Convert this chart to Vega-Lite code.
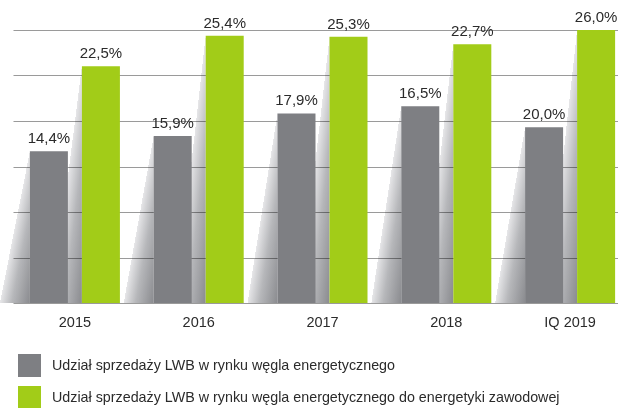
{
  "$schema": "https://vega.github.io/schema/vega-lite/v6.json",
  "width": 608,
  "height": 273,
  "autosize": {"type": "none"},
  "padding": {"left": 10, "top": 30, "right": 0, "bottom": 105},
  "background": "white",
  "config": {
    "view": {"stroke": null},
    "font": "Liberation Sans"
  },
  "data": {
    "values": [
      {"year": "2015", "series": "Udział sprzedaży LWB w rynku węgla energetycznego", "value": 14.45, "label": "14,4%"},
      {"year": "2015", "series": "Udział sprzedaży LWB w rynku węgla energetycznego do energetyki zawodowej", "value": 22.55, "label": "22,5%"},
      {"year": "2016", "series": "Udział sprzedaży LWB w rynku węgla energetycznego", "value": 15.9, "label": "15,9%"},
      {"year": "2016", "series": "Udział sprzedaży LWB w rynku węgla energetycznego do energetyki zawodowej", "value": 25.45, "label": "25,4%"},
      {"year": "2017", "series": "Udział sprzedaży LWB w rynku węgla energetycznego", "value": 18.05, "label": "17,9%"},
      {"year": "2017", "series": "Udział sprzedaży LWB w rynku węgla energetycznego do energetyki zawodowej", "value": 25.35, "label": "25,3%"},
      {"year": "2018", "series": "Udział sprzedaży LWB w rynku węgla energetycznego", "value": 18.75, "label": "16,5%"},
      {"year": "2018", "series": "Udział sprzedaży LWB w rynku węgla energetycznego do energetyki zawodowej", "value": 24.65, "label": "22,7%"},
      {"year": "IQ 2019", "series": "Udział sprzedaży LWB w rynku węgla energetycznego", "value": 16.75, "label": "20,0%"},
      {"year": "IQ 2019", "series": "Udział sprzedaży LWB w rynku węgla energetycznego do energetyki zawodowej", "value": 26.0, "label": "26,0%"}
    ]
  },
  "encoding": {
    "x": {
      "field": "year", "type": "nominal", "sort": null,
      "scale": {"range": [3, 622], "paddingInner": 0, "paddingOuter": 0},
      "axis": {"title": null, "domain": false, "ticks": false, "grid": false, "labelAngle": 0, "labelPadding": 19, "labelFontSize": 14.5, "labelColor": "#2b2b2b", "labelBaseline": "middle"}
    },
    "y": {
      "field": "value", "type": "quantitative",
      "scale": {"domain": [0, 26], "nice": false},
      "axis": {"title": null, "labels": false, "ticks": false, "domain": false, "grid": true, "gridColor": "#9a9a9a", "gridWidth": 1.2,
               "values": [0, 4.333333, 8.666667, 13, 17.333333, 21.666667, 26]}
    }
  },
  "layer": [
    {
      "transform": [{"filter": {"field": "series", "equal": "Udział sprzedaży LWB w rynku węgla energetycznego"}}],
      "mark": {"type": "bar", "width": 30, "xOffset": -60, "blend": "multiply",
        "fill": {"gradient": "linear", "x1": 0, "y1": 0, "x2": 1, "y2": 1,
          "stops": [{"offset": 0, "color": "#ffffff"}, {"offset": 0.5, "color": "#ffffff"}, {"offset": 0.5, "color": "#e6e6e8"}, {"offset": 0.7, "color": "#b6b7ba"}, {"offset": 1, "color": "#8a8b8f"}]}}
    },
    {
      "transform": [{"filter": {"field": "series", "equal": "Udział sprzedaży LWB w rynku węgla energetycznego do energetyki zawodowej"}}],
      "mark": {"type": "bar", "width": 30, "xOffset": -8, "blend": "multiply",
        "fill": {"gradient": "linear", "x1": 0, "y1": 0, "x2": 1, "y2": 1,
          "stops": [{"offset": 0, "color": "#ffffff"}, {"offset": 0.5, "color": "#ffffff"}, {"offset": 0.5, "color": "#e6e6e8"}, {"offset": 0.7, "color": "#b6b7ba"}, {"offset": 1, "color": "#8a8b8f"}]}}
    },
    {
      "mark": {"type": "bar", "width": 38},
      "encoding": {
        "xOffset": {"field": "series", "sort": null, "scale": {"paddingInner": 0.27, "paddingOuter": 0.325}},
        "color": {
          "field": "series", "type": "nominal", "sort": null,
          "scale": {"range": ["#7e7f83", "#a2cc18"]},
          "legend": {"title": null, "orient": "none", "legendX": 8, "legendY": 324, "direction": "vertical",
            "symbolType": "square", "symbolSize": 529, "symbolStrokeWidth": 0, "symbolOpacity": 1,
            "labelFontSize": 14.3, "labelColor": "#2b2b2b", "labelLimit": 600, "labelOffset": 11, "rowPadding": 9, "padding": 0}
        }
      }
    },
    {
      "mark": {"type": "text", "dy": -8, "baseline": "alphabetic", "fontSize": 15, "color": "#2b2b2b"},
      "encoding": {
        "xOffset": {"field": "series", "sort": null},
        "text": {"field": "label", "type": "nominal"}
      }
    }
  ]
}
